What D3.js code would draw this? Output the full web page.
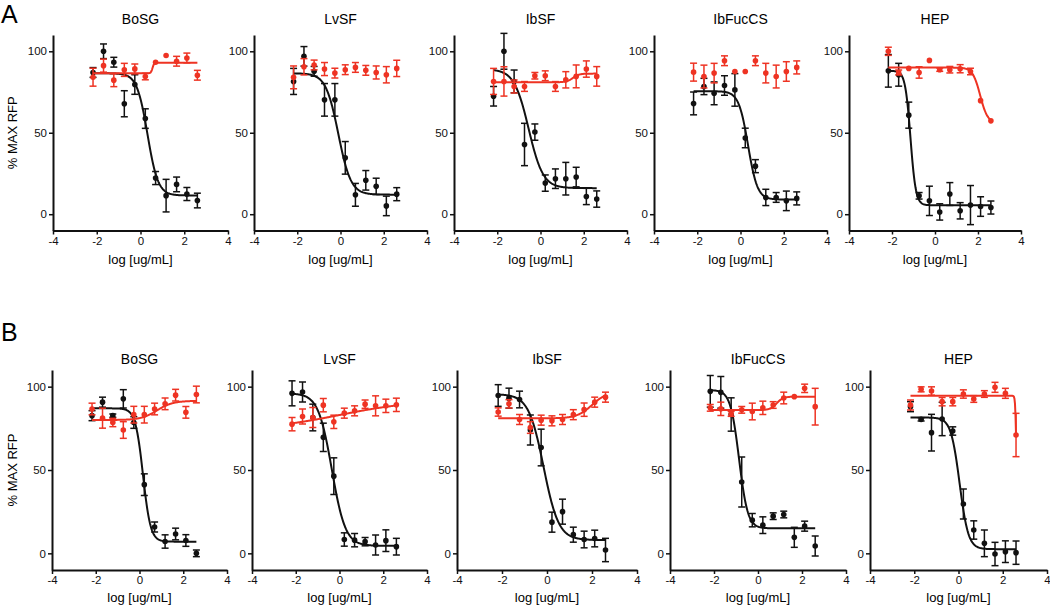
<!DOCTYPE html>
<html>
<head>
<meta charset="utf-8">
<script src="https://cdn.jsdelivr.net/npm/d3@7"></script>
<style>
  body { margin: 0; background: #fff; }
  svg { font-family: "Liberation Sans", Arial, sans-serif; }
  .axis path, .axis line { stroke: #111; }
  .axis text { font-size: 11.5px; fill: #111; }
</style>
</head>
<body>
<svg id="chart" width="1050" height="609"></svg>
<script>
// log concentration (3-fold dilutions)
var logConc = [-2.17, -1.69, -1.22, -0.74, -0.26, 0.22, 0.69, 1.17, 1.65, 2.12, 2.6];
var panelNames = ["BoSG", "LvSF", "IbSF", "IbFucCS", "HEP"];
var rowLetters = ["A", "B"];
var xTicks = [-4, -2, 0, 2, 4];
var yTicks = [0, 50, 100];

// row A, black series (mean, sem)
var aBlack = [
  [87, 100, 93.3, 67.8, 79.6, 58.7, 22.2, 11.4, 18.3, 12.4, 8.4],
  [81.5, 96.9, 87.7, 70.2, 70.2, 34.6, 11.9, 20.8, 17.1, 5.1, 12.3],
  [72.4, 100, 81.5, 42.8, 50.4, 19.1, 21.8, 21.8, 22.8, 10.9, 9.3],
  [68, 78.4, 74.2, 79, 76.3, 46.8, 29.5, 10.3, 10.3, 8.2, 9.7],
  [88, 85.6, 60.8, 11.3, 8.2, 1.4, 12.4, 2.1, 5.6, 4.7, 4.1]
];
var aBlackErr = [
  [3, 4.5, 3, 8, 6, 6, 4, 10, 4.5, 4, 4.5],
  [8, 6, 3, 10, 10, 10, 7, 6, 5, 6, 4],
  [6, 11, 7, 13, 5, 5, 6, 10, 6, 5, 5],
  [7, 5, 7, 6, 10, 6, 4, 5, 3, 6, 4],
  [10, 7, 8, 2, 9, 5, 7, 5, 12, 6, 4]
];
// row A, red series
var aRed = [
  [84.1, 91.2, 82.3, 88.6, 89.2, 84.5, 93.3, 97.4, 93.9, 95.9, 85.3],
  [84, 90.5, 91.6, 89.1, 86.6, 88.7, 90.1, 88.3, 87, 85.6, 89.5],
  [81.5, 81.5, 78.4, 78.4, 85, 85, 78.4, 82.5, 84.6, 89.1, 84.6],
  [87.2, 84.5, 86.6, 94.2, 87.6, 87.6, 94.2, 86.6, 84.5, 87.6, 90.1],
  [100, 87, 89.5, 87, 94.4, 88.7, 88.7, 89.3, 87.6, 69.7, 57.3]
];
var aRedErr = [
  [5.5, 4, 4, 4, 3, 2, 0, 0, 3, 3, 3],
  [7, 5, 3, 4, 3, 3, 3, 3, 4, 5, 5],
  [8, 9, 4, 3, 2, 3, 3, 5, 7, 5, 6],
  [5.5, 7, 6, 3, 0, 0, 3, 6, 7, 6, 4],
  [2.5, 1.5, 0, 3.5, 0, 1, 2, 2.5, 2, 0, 0]
];
// row B, black series
var bBlack = [
  [82.6, 90.7, 82.6, 92.7, 78.5, 41.2, 15.8, 7.1, 11.6, 7.7, 0],
  [96, 96.8, 81.5, 69.6, 46.3, 8.3, 7.9, 7, 5, 7.6, 4],
  [94.7, 93.1, 92.3, 74, 63.5, 18.7, 25, 11.2, 8.3, 8.9, 2],
  [97.2, 96.6, 83.3, 42.8, 19.9, 16.9, 22.3, 23.3, 9.6, 16.3, 4.4],
  [88, 80.4, 72.4, 80.6, 73.4, 29.6, 14, 6, -0.4, 1, 0.4]
];
var bBlackErr = [
  [3, 3, 1, 5.5, 3.5, 6.5, 3, 4, 3.5, 3.5, 2],
  [7.5, 6, 8, 8.5, 11, 4, 4, 2.5, 6, 6.5, 5],
  [6.5, 6, 5, 9, 11, 6, 7.5, 4.5, 5, 5, 7],
  [9.5, 9.5, 10, 15, 4, 5, 2, 2, 6, 3, 6],
  [3, 1, 11, 10, 2.5, 9, 5.5, 8, 7, 6.5, 7]
];
// row B, red series
var bRed = [
  [86.6, 81.1, 78.5, 74, 83.2, 83.2, 86.6, 89.7, 94.9, 84.6, 95.3],
  [77.5, 82.1, 81.5, 88.9, 78.9, 84.1, 85.5, 89.5, 88.5, 88.5, 89.1],
  [84.8, 89.7, 80.3, 75.5, 79.9, 79.5, 80.3, 83.2, 86.2, 90.7, 93.7],
  [87.3, 86.7, 83.7, 86.1, 85.1, 87.3, 89, 93.2, 94, 99, 88],
  [89, 98.4, 97.4, 91, 91, 95.6, 92.6, 95.6, 99.6, 96, 71]
];
var bRedErr = [
  [3.5, 6, 2.5, 5, 5, 5, 3.5, 3.5, 3.5, 3.5, 5],
  [4, 4.5, 6, 4, 4, 3, 3, 2.5, 6, 4, 4],
  [2.5, 2.5, 3, 3.5, 3, 3, 3, 3, 4, 3, 3],
  [2, 4, 1.5, 2, 5, 4, 2, 3.5, 0, 2.5, 11],
  [3, 1.5, 2.5, 2.5, 2.5, 2.5, 2, 2, 3, 3, 13]
];

// fitted 4PL curves: [bottom, top, logEC50, hill], null = no fit drawn
var aBlackFit = [[11.5, 86.5, 0.32, -1.8], [12, 86.5, -0.1, -1.5], [16, 89, -0.55, -1.3], [9, 75.5, 0.35, -2], [5.5, 88, -1.14, -3.5]];
var aRedFit = [[86.5, 93, 0.55, 12], null, [81, 86.3, 1.5, 3], null, [56, 90, 2.1, -2.5]];
var bBlackFit = [[7, 87, 0.16, -2.5], [4.5, 96, -0.35, -1.4], [8, 95.5, -0.15, -1.3], [15, 98, -0.86, -2.2], [2.5, 81.5, 0.05, -2.2]];
var bRedFit = [[80, 91.5, 0.8, 1.2], [74, 92, 0, 0.25], [81, 97, 2.0, 1.3], [86, 94, 0.85, 3], [48, 94.5, 2.6, -20]];

var red = "#ee3323", black = "#111";

var svg = d3.select("#chart");

// panel placement
var rows = [
  { letter: rowLetters[0], lefts: [53, 254, 454, 654, 849], widths: [175, 173, 173, 173, 172], top: 35, bottom: 230.5,
    titleY: 24, xlabY: 264, black: aBlack, blackErr: aBlackErr, red: aRed, redErr: aRedErr, blackFit: aBlackFit, redFit: aRedFit, letterY: 23 },
  { letter: rowLetters[1], lefts: [52, 252, 457, 670, 870], widths: [175, 175, 180, 176, 177], top: 370, bottom: 570,
    titleY: 364, xlabY: 602, black: bBlack, blackErr: bBlackErr, red: bRed, redErr: bRedErr, blackFit: bBlackFit, redFit: bRedFit, letterY: 341 }
];

function fourPL(p, x) {
  return p[0] + (p[1] - p[0]) / (1 + Math.pow(10, (p[2] - x) * p[3]));
}

rows.forEach(function(row) {

  svg.append("text")
    .attr("x", 1)
    .attr("y", row.letterY)
    .style("font-size", "25px")
    .style("fill", "#000")
    .text(row.letter);

  panelNames.forEach(function(name, i) {
    var left = row.lefts[i];
    var x = d3.scaleLinear().domain([-4, 4]).range([left, left + row.widths[i]]);
    var y = d3.scaleLinear().domain([-10, 110]).range([row.bottom, row.top]);
    var g = svg.append("g");

    // axes
    g.append("g")
      .attr("class", "axis")
      .attr("transform", "translate(0," + row.bottom + ")")
      .call(d3.axisBottom(x).tickValues(xTicks).tickSize(4).tickSizeOuter(0).tickPadding(2).tickFormat(function(d) { return String(d); }))
      .call(function(a) { a.select(".domain").style("stroke-width", "2px"); a.selectAll(".tick line").style("stroke-width", "1.5px"); });

    g.append("g")
      .attr("class", "axis")
      .attr("transform", "translate(" + left + ",0)")
      .call(d3.axisLeft(y).tickValues(yTicks).tickSize(4).tickSizeOuter(0).tickPadding(2).tickFormat(function(d) { return String(d); }))
      .call(function(a) { a.select(".domain").style("stroke-width", "2px"); a.selectAll(".tick line").style("stroke-width", "1.5px"); });

    g.selectAll(".axis text").style("font-family", "'Liberation Sans', Arial, sans-serif");

    // title
    g.append("text")
      .attr("x", (x(-4) + x(4)) / 2)
      .attr("y", row.titleY)
      .attr("text-anchor", "middle")
      .style("font-size", "14px")
      .text(name);

    // x label
    g.append("text")
      .attr("x", (x(-4) + x(4)) / 2)
      .attr("y", row.xlabY)
      .attr("text-anchor", "middle")
      .style("font-size", "13px")
      .text("log [ug/mL]");

    if (i == 0) {
      g.append("text")
        .attr("transform", "translate(17," + y(50) + ") rotate(-90)")
        .attr("text-anchor", "middle")
        .style("font-size", "13px")
        .text("% MAX RFP");
    }

    var series = [
      { vals: row.black[i], errs: row.blackErr[i], fit: row.blackFit[i], color: black },
      { vals: row.red[i], errs: row.redErr[i], fit: row.redFit[i], color: red }
    ];

    series.forEach(function(s) {
      // fitted curve
      if (s.fit) {
        var xs = d3.range(0, 201).map(function(k) { return logConc[0] + k * (logConc[10] - logConc[0]) / 200; });
        var line = d3.line()
          .x(function(d) { return x(d); })
          .y(function(d) { return y(fourPL(s.fit, d)); });
        g.append("path")
          .datum(xs)
          .attr("d", line)
          .style("fill", "none")
          .style("stroke", s.color)
          .style("stroke-width", "2px");
      }

      var pts = logConc.map(function(c, k) { return { c: c, v: s.vals[k], e: s.errs[k] }; });

      // error bars
      var eb = g.selectAll(null)
        .data(pts.filter(function(d) { return d.e > 0; }))
        .enter()
        .append("g")
        .style("stroke", s.color)
        .style("stroke-width", "1.5px");
      eb.append("line")
        .attr("x1", function(d) { return x(d.c); })
        .attr("x2", function(d) { return x(d.c); })
        .attr("y1", function(d) { return y(d.v + d.e); })
        .attr("y2", function(d) { return y(d.v - d.e); });
      [1, -1].forEach(function(sign) {
        eb.append("line")
          .attr("x1", function(d) { return x(d.c) - 3.5; })
          .attr("x2", function(d) { return x(d.c) + 3.5; })
          .attr("y1", function(d) { return y(d.v + sign * d.e); })
          .attr("y2", function(d) { return y(d.v + sign * d.e); });
      });

      // points
      g.selectAll(null)
        .data(pts)
        .enter()
        .append("circle")
        .attr("cx", function(d) { return x(d.c); })
        .attr("cy", function(d) { return y(d.v); })
        .attr("r", 2.8)
        .style("fill", s.color);
    });
  });
});
</script>
</body>
</html>
